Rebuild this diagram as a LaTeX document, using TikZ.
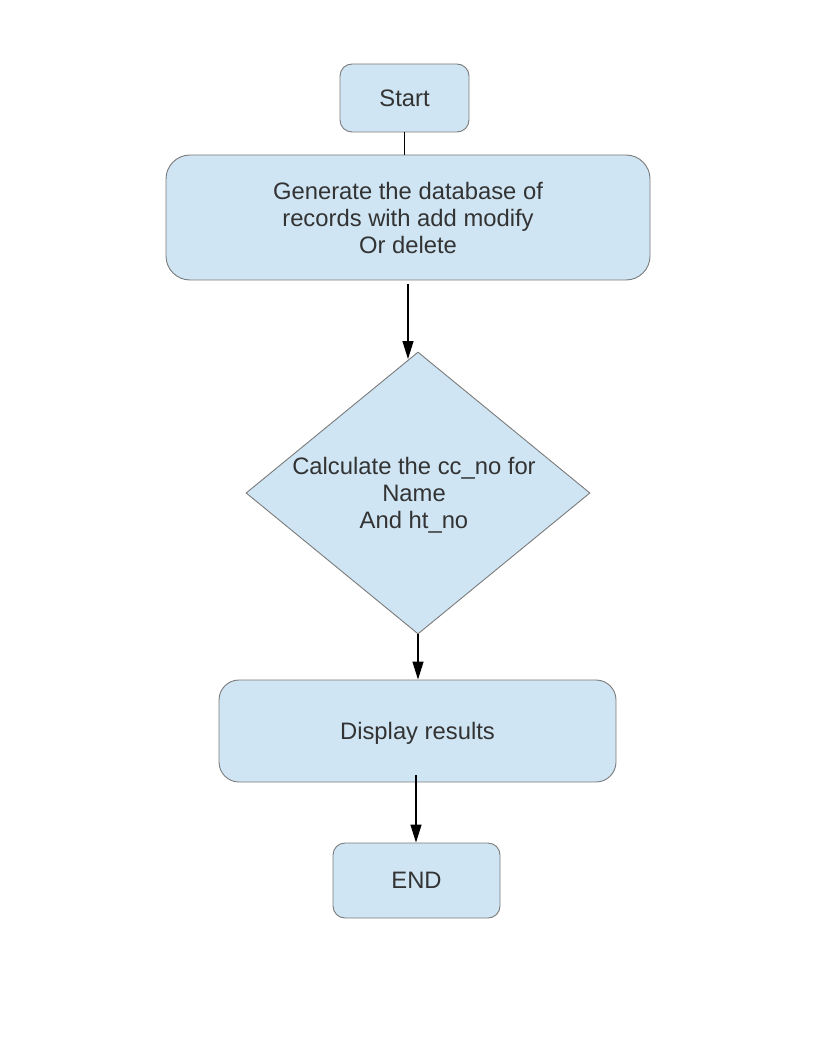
\documentclass[tikz,border=0pt]{standalone}
\usepackage{fontspec}
\setmainfont{Liberation Sans}
\usetikzlibrary{shapes.geometric,arrows.meta}
\definecolor{boxfill}{HTML}{CFE5F3}
\definecolor{boxline}{HTML}{7A7A7A}
\definecolor{txt}{HTML}{333333}
\begin{document}
\begin{tikzpicture}[x=1pt,y=-1pt,
  every node/.style={font=\fontsize{23.8}{27}\selectfont, text=txt, align=center},
  procbox/.style={draw=boxline, fill=boxfill, line width=0.9pt, inner sep=0pt},
  decbox/.style={diamond, draw=boxline, fill=boxfill, line width=0.9pt, inner sep=0pt},
  link/.style={draw=black, line width=1.2pt},
  arrow/.style={link, -{Triangle[length=18pt,width=11pt]}}]
\useasboundingbox (0,0) rectangle (816,1056);
\node[procbox, rounded corners=12pt, minimum width=129pt, minimum height=68pt] (start) at (404.5,98) {Start};
\node[procbox, rounded corners=24pt, minimum width=484pt, minimum height=125pt] (gen) at (408,217.5) {Generate the database of\\records with add modify\\Or delete};
\node[decbox, minimum width=344pt, minimum height=282pt] (dia) at (418,493) {};
\node (diatext) at (414,495) {Calculate the cc\_no for\\Name\\And ht\_no};
\node[procbox, rounded corners=20pt, minimum width=397pt, minimum height=102pt, text depth=0pt] (disp) at (417.5,731) {Display results};
\node[procbox, rounded corners=12pt, minimum width=167pt, minimum height=75pt] (end) at (416.5,880.5) {END};
\coordinate (a1s) at (408,284);
\coordinate (a1e) at (408,359);
\coordinate (a3s) at (416,775);
\draw[link] (start.south) -- (gen.north -| start.south);
\draw[arrow] (a1s) -- (a1e);
\draw[arrow] (dia.south) -- (disp.north -| dia.south);
\draw[arrow] (a3s) -- (end.north -| a3s);
\end{tikzpicture}
\end{document}
